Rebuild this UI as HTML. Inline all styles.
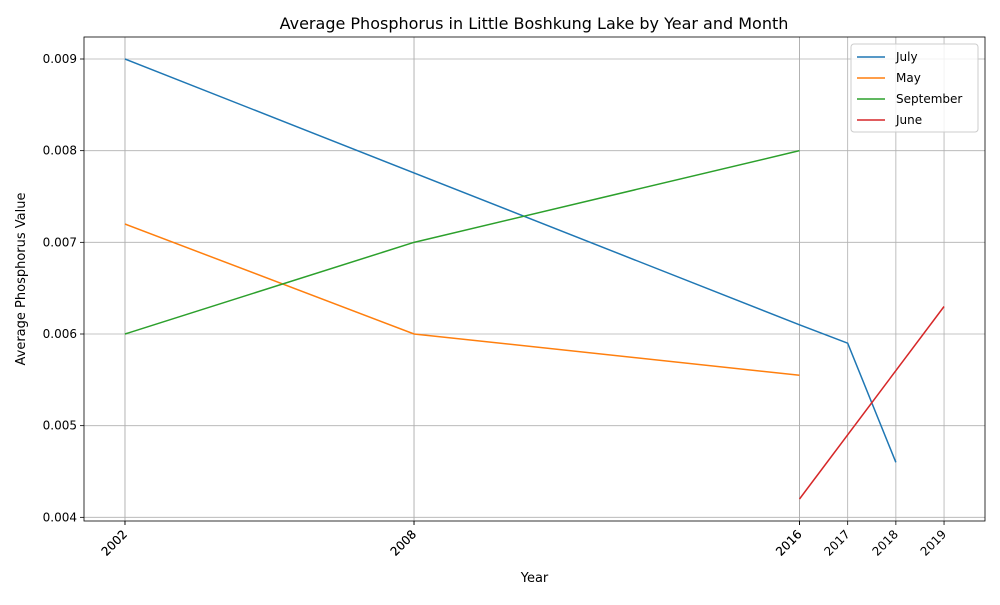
<!DOCTYPE html>
<html><head><meta charset="utf-8"><style>
body{margin:0;background:#fff;font-family:"Liberation Sans","DejaVu Sans",sans-serif;}
</style></head><body>
<svg id="chart" width="1000" height="600" xmlns="http://www.w3.org/2000/svg" font-family="DejaVu Sans, Liberation Sans, sans-serif">
<text x="534" y="29" font-size="16" text-anchor="middle">Average Phosphorus in Little Boshkung Lake by Year and Month</text>
<g id="grid"></g><g id="series"></g><g id="axes"></g>
</svg>
<script>
const xTicks=[2002,2002,2008,2008,2016,2016,2017,2018,2019];
const yTicks=[0.004,0.005,0.006,0.007,0.008,0.009];
const seriesNames=['July','May','September','June'];
const julyYears=[2002,2016,2017,2018];
const julyVals=[0.009,0.0061,0.0059,0.0046];
const mayYears=[2002,2008,2016];
const mayVals=[0.0072,0.006,0.00555];
const sepYears=[2002,2008,2016];
const sepVals=[0.006,0.007,0.008];
const juneYears=[2016,2019];
const juneVals=[0.0042,0.0063];
const colors=['#1f77b4','#ff7f0e','#2ca02c','#d62728'];
const L=84,R=985,T=37,B=521,X0=2001.15,X1=2019.85,Y0=0.00396,Y1=0.00924;
const sx=v=>L+(v-X0)/(X1-X0)*(R-L);
const sy=v=>B-(v-Y0)/(Y1-Y0)*(B-T);
const NS='http://www.w3.org/2000/svg';
function mk(tag,attrs,parent,text){const e=document.createElementNS(NS,tag);for(const k in attrs)e.setAttribute(k,attrs[k]);if(text!==undefined)e.textContent=text;parent.appendChild(e);return e;}
const grid=document.getElementById('grid'),axes=document.getElementById('axes'),ser=document.getElementById('series');
xTicks.forEach(t=>{const x=sx(t);
 const g=mk('line',{x1:x,x2:x,y1:T,y2:B,stroke:'#b0b0b0','stroke-width':0.8},grid);
 
 
 mk('line',{x1:x,x2:x,y1:B,y2:B+4,stroke:'#000','stroke-width':0.8},axes);
 const tx=mk('text',{x:x+3,y:B+14,'font-size':12,'text-anchor':'end',transform:`rotate(-45 ${x+3} ${B+14})`},axes,String(t));
 
 
});
yTicks.forEach(t=>{const y=sy(t);
 const g=mk('line',{x1:L,x2:R,y1:y,y2:y,stroke:'#b0b0b0','stroke-width':0.8},grid);
 
 
 mk('line',{x1:L-4,x2:L,y1:y,y2:y,stroke:'#000','stroke-width':0.8},axes);
 const tx=mk('text',{x:L-7,y:y+4,'font-size':12,'text-anchor':'end'},axes,t.toFixed(3));
 
 
});
const fr=mk('rect',{x:L,y:T,width:R-L,height:B-T,fill:'none',stroke:'#000','stroke-width':0.8},axes);


const xl=mk('text',{x:(L+R)/2,y:582,'font-size':13,'text-anchor':'middle'},axes,'Year');


const yl=mk('text',{x:25,y:(T+B)/2,'font-size':13,'text-anchor':'middle',transform:`rotate(-90 25 ${(T+B)/2})`},axes,'Average Phosphorus Value');


const data=[[julyYears,julyVals],[mayYears,mayVals],[sepYears,sepVals],[juneYears,juneVals]];
data.forEach((d,i)=>{const pts=d[0].map((yr,j)=>sx(yr)+','+sy(d[1][j])).join(' ');
 const p=mk('polyline',{points:pts,fill:'none',stroke:colors[i],'stroke-width':1.5},ser);
 
 
});
const lg=mk('g',{},axes);


mk('rect',{x:851,y:44,width:127,height:88,rx:3,fill:'#fff','fill-opacity':0.8,stroke:'#ccc'},lg);
seriesNames.forEach((n,i)=>{const y=57+i*21;
 const e=mk('g',{},lg);
 
 
 mk('line',{x1:857,x2:885,y1:y,y2:y,stroke:colors[i],'stroke-width':1.5},e);
 mk('text',{x:896,y:y+4,'font-size':12},e,n);
});
</script>
</body></html>
